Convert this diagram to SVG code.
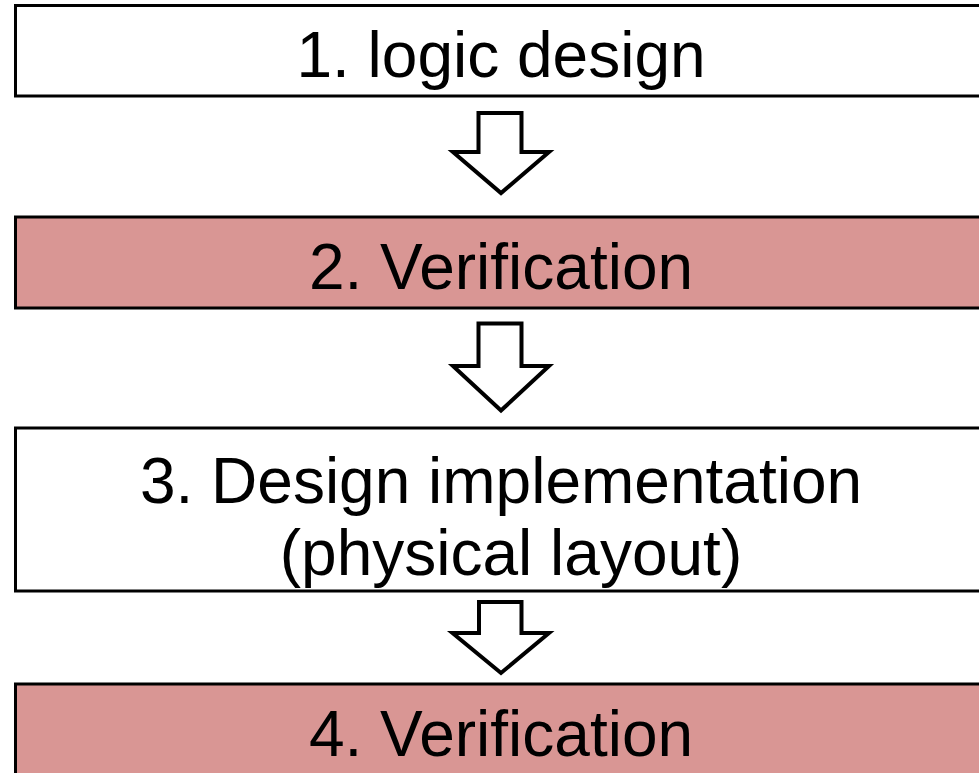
<svg xmlns="http://www.w3.org/2000/svg" width="979" height="773" viewBox="0 0 979 773">
  <style>
    .box { stroke: #000; stroke-width: 3; }
    .plain { fill: #ffffff; }
    .check { fill: #D99694; }
    .label { font-family: "Liberation Sans", Arial, Helvetica, sans-serif; font-size: 64px; fill: #000; text-anchor: middle; }
    .step { fill: #ffffff; stroke: #000; stroke-width: 4; stroke-linejoin: miter; }
  </style>
  <rect width="979" height="773" fill="#ffffff"/>

  <g id="node-logic-design">
    <rect class="box plain" x="15.5" y="5.5" width="980" height="90.5"/>
    <text class="label" x="501" y="77">1. logic design</text>
  </g>

  <g id="node-verification-1">
    <rect class="box check" x="15.5" y="217" width="980" height="91"/>
    <text class="label" x="501" y="289">2. Verification</text>
  </g>

  <g id="node-design-implementation">
    <rect class="box plain" x="15.5" y="428" width="980" height="163"/>
    <text class="label" x="501" y="503">3. Design implementation</text>
    <text class="label" x="511" y="575">(physical layout)</text>
  </g>

  <g id="node-verification-2">
    <rect class="box check" x="15.5" y="684" width="980" height="100"/>
    <text class="label" x="501" y="756">4. Verification</text>
  </g>

  <g id="connectors">
    <polygon class="step" points="478.5,113 521.5,113 521.5,152 549,152 501,193 453,152 478.5,152"/>
    <polygon class="step" points="478.5,323.5 521.5,323.5 521.5,366 549,366 501,410.5 453,366 478.5,366"/>
    <polygon class="step" points="479,602 521.5,602 521.5,633 549,633 501,673 452.5,633 479,633"/>
  </g>
</svg>
